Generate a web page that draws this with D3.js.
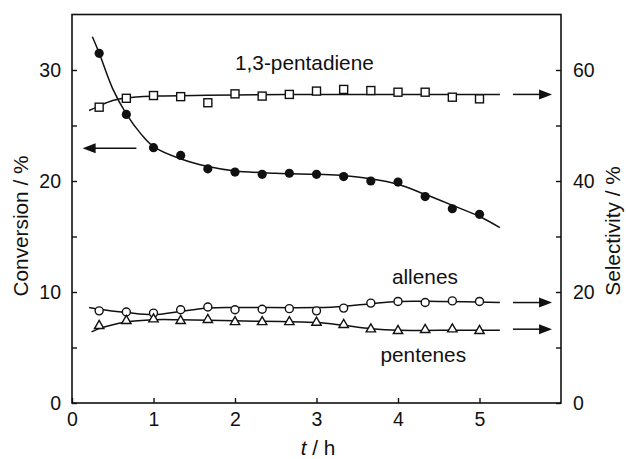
<!DOCTYPE html>
<html>
<head>
<meta charset="utf-8">
<script src="https://cdn.jsdelivr.net/npm/d3@7"></script>
<style>
  body { margin: 0; background: #fff; }
  text { font-family: "Liberation Sans", Arial, sans-serif; fill: #111; }
</style>
</head>
<body>
<svg id="chart" width="626" height="459"></svg>
<script>
'use strict'

// sampling times (h)
var times = [1/3, 2/3, 1, 4/3, 5/3, 2, 7/3, 8/3, 3, 10/3, 11/3, 4, 13/3, 14/3, 5];

// measured points
var conversion = [31.5, 26.0, 23.0, 22.3, 21.1, 20.8, 20.6, 20.7, 20.6, 20.4, 20.0, 19.9, 18.6, 17.5, 17.0];
var pentadiene = [53.3, 54.9, 55.4, 55.2, 54.1, 55.7, 55.3, 55.6, 56.2, 56.5, 56.3, 56.0, 56.0, 55.1, 54.8];
var allenes    = [16.6, 16.4, 16.2, 16.8, 17.3, 16.8, 16.9, 17.0, 16.6, 17.1, 18.0, 18.3, 18.1, 18.4, 18.3];
var pentenes   = [13.9, 14.8, 15.1, 14.8, 15.0, 14.6, 14.6, 14.6, 14.5, 14.1, 13.3, 13.0, 13.2, 13.3, 13.0];

// hand-drawn trend lines
var convFitT = [0.25, 0.33, 0.5, 0.67, 0.85, 1.0, 1.33, 1.67, 2.0, 2.5, 3.0, 3.33, 3.67, 4.0, 4.33, 4.67, 5.0, 5.25];
var convFitV = [33.0, 31.6, 28.3, 26.0, 24.2, 23.1, 22.0, 21.3, 20.9, 20.7, 20.6, 20.5, 20.2, 19.7, 18.8, 17.8, 16.8, 15.8];
var pdFitT = [0.21, 0.33, 0.5, 0.67, 1.0, 1.5, 2.0, 3.0, 4.0, 5.25];
var pdFitV = [52.7, 53.5, 54.5, 55.0, 55.3, 55.4, 55.5, 55.6, 55.6, 55.6];
var alFitT = [0.21, 0.33, 0.67, 1.0, 1.33, 1.67, 2.0, 3.0, 3.33, 3.67, 4.0, 4.5, 5.25];
var alFitV = [17.2, 16.9, 16.3, 15.9, 16.5, 17.1, 17.2, 17.2, 17.4, 17.9, 18.3, 18.3, 18.1];
var peFitT = [0.24, 0.33, 0.67, 1.0, 1.33, 2.0, 3.0, 3.33, 3.67, 4.0, 4.5, 5.25];
var peFitV = [12.8, 13.4, 14.6, 15.0, 15.0, 14.8, 14.5, 14.0, 13.4, 13.1, 13.1, 13.1];

// ticks
var xTicks = [0, 1, 2, 3, 4, 5];
var leftTicks = [0, 10, 20, 30];
var leftMinor = [5, 15, 25];
var rightTicks = [0, 20, 40, 60];
var rightMinor = [10, 30, 50];

var svg = d3.select("#chart");

var x = d3.scaleLinear().domain([0, 6]).range([72, 561]);
var yL = d3.scaleLinear().domain([0, 35]).range([403, 14.5]);
var yR = d3.scaleLinear().domain([0, 70]).range([403, 14.5]);

// frame
svg.append("rect")
    .attr("x", x(0)).attr("y", yL(35))
    .attr("width", x(6) - x(0)).attr("height", yL(0) - yL(35))
    .attr("fill", "none").attr("stroke", "#111").attr("stroke-width", 1.6);

// axes, ticks pointing inward
var fs = "19.5px";   // tick labels
var fl = "20.8px";   // titles and series labels
var xAxis = svg.append("g").attr("transform", "translate(0," + yL(0) + ")")
    .call(d3.axisBottom(x).tickValues(xTicks).tickSize(-5).tickPadding(9).tickFormat(d3.format("d")));
var lAxis = svg.append("g").attr("transform", "translate(" + x(0) + ",0)")
    .call(d3.axisLeft(yL).tickValues(leftTicks.concat(leftMinor)).tickSize(-5).tickPadding(11)
        .tickFormat(function(d){ return leftTicks.indexOf(d) >= 0 ? d : ""; }));
var rAxis = svg.append("g").attr("transform", "translate(" + x(6) + ",0)")
    .call(d3.axisRight(yR).tickValues(rightTicks.concat(rightMinor)).tickSize(-5).tickPadding(12)
        .tickFormat(function(d){ return rightTicks.indexOf(d) >= 0 ? d : ""; }));

[xAxis, lAxis, rAxis].forEach(function(g){
    g.select(".domain").remove();
    g.selectAll("line").attr("stroke", "#111").attr("stroke-width", 1.4);
    g.selectAll("text").attr("font-size", fs).attr("fill", "#111")
        .style("font-family", "'Liberation Sans', Arial, sans-serif");
});

// axis titles
svg.append("text")
    .attr("transform", "translate(28,226) rotate(-90)")
    .attr("text-anchor", "middle").attr("font-size", fl)
    .text("Conversion / %");
svg.append("text")
    .attr("transform", "translate(620,231) rotate(-90)")
    .attr("text-anchor", "middle").attr("font-size", fl)
    .text("Selectivity / %");
var xt = svg.append("text")
    .attr("x", 318).attr("y", 455)
    .attr("text-anchor", "middle").attr("font-size", fl);
xt.append("tspan").attr("font-style", "italic").text("t");
xt.append("tspan").text(" / h");

// trend lines
var line = d3.line().curve(d3.curveCatmullRom.alpha(0.5));
function drawFit(ts, vs, scale){
    svg.append("path")
        .attr("d", line(ts.map(function(t, i){ return [x(t), scale(vs[i])]; })))
        .attr("fill", "none").attr("stroke", "#111").attr("stroke-width", 1.5);
}
drawFit(convFitT, convFitV, yL);
drawFit(pdFitT, pdFitV, yR);
drawFit(alFitT, alFitV, yR);
drawFit(peFitT, peFitV, yR);

// markers
svg.append("g").selectAll("circle").data(conversion).enter()
    .append("circle")
    .attr("cx", function(d, i){ return x(times[i]); })
    .attr("cy", function(d){ return yL(d); })
    .attr("r", 4.6).attr("fill", "#111");

svg.append("g").selectAll("rect").data(pentadiene).enter()
    .append("rect")
    .attr("x", function(d, i){ return x(times[i]) - 4; })
    .attr("y", function(d){ return yR(d) - 4; })
    .attr("width", 8).attr("height", 8)
    .attr("fill", "#fff").attr("stroke", "#111").attr("stroke-width", 1.4);

svg.append("g").selectAll("circle").data(allenes).enter()
    .append("circle")
    .attr("cx", function(d, i){ return x(times[i]); })
    .attr("cy", function(d){ return yR(d); })
    .attr("r", 4)
    .attr("fill", "#fff").attr("stroke", "#111").attr("stroke-width", 1.4);

var tri = d3.symbol().type(d3.symbolTriangle).size(38);
svg.append("g").selectAll("path").data(pentenes).enter()
    .append("path")
    .attr("d", tri)
    .attr("transform", function(d, i){ return "translate(" + x(times[i]) + "," + yR(d) + ")"; })
    .attr("fill", "#fff").attr("stroke", "#111").attr("stroke-width", 1.4);

// arrows pointing to the axis each series belongs to
function arrow(t0, t1, yPix){
    var x0 = x(t0), x1 = x(t1), dir = x1 > x0 ? 1 : -1;
    svg.append("line")
        .attr("x1", x0).attr("y1", yPix).attr("x2", x1 - dir * 10).attr("y2", yPix)
        .attr("stroke", "#111").attr("stroke-width", 1.5);
    svg.append("path")
        .attr("d", "M" + x1 + "," + yPix + "L" + (x1 - dir * 13) + "," + (yPix - 5) +
            "L" + (x1 - dir * 13) + "," + (yPix + 5) + "Z")
        .attr("fill", "#111");
}
arrow(0.79, 0.13, yL(22.95));
arrow(5.41, 5.89, yR(55.6));
arrow(5.41, 5.89, yR(18.1));
arrow(5.41, 5.89, yR(13.3));

// series labels
svg.append("text").attr("x", x(2.0)).attr("y", yL(30)).attr("font-size", fl).text("1,3-pentadiene");
svg.append("text").attr("x", x(4.33)).attr("y", yR(21.4)).attr("text-anchor", "middle").attr("font-size", fl).text("allenes");
svg.append("text").attr("x", x(4.31)).attr("y", yR(7.4)).attr("text-anchor", "middle").attr("font-size", fl).text("pentenes");
</script>
</body>
</html>
